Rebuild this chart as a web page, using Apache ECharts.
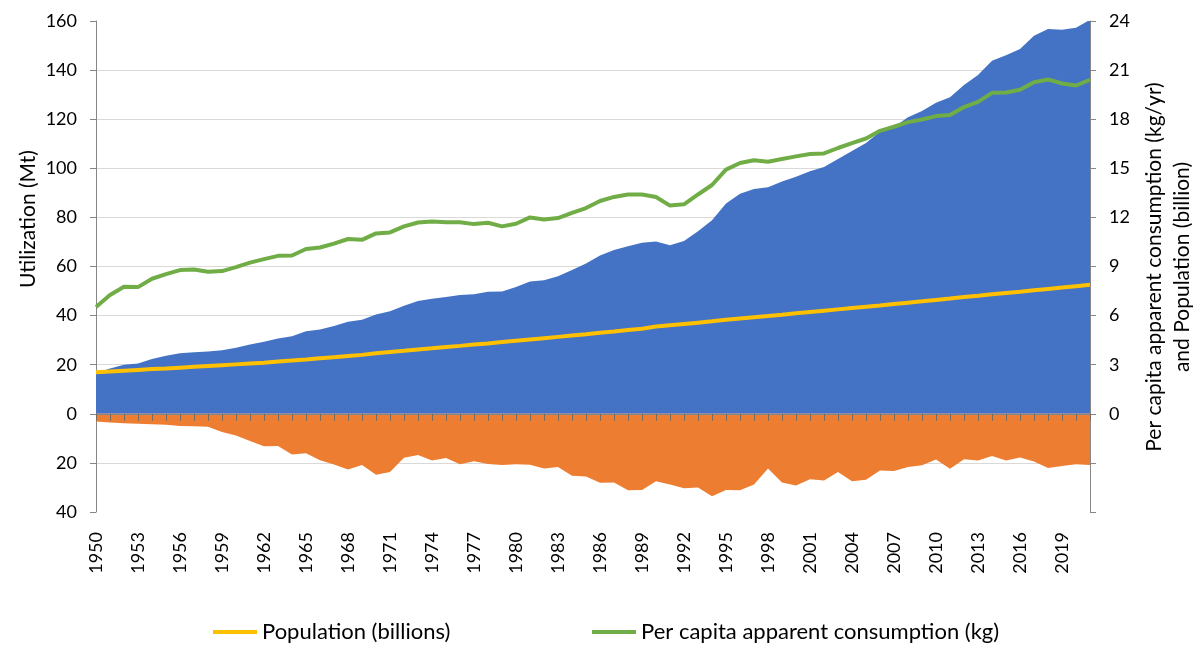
<!DOCTYPE html>
<html lang="en">
<head>
    <meta charset="UTF-8">
    <title>Utilization, population and per capita consumption</title>
    <style>
        body { margin: 0; overflow: hidden; background: #fff; }
        #chart { width: 1200px; height: 653px; }
    </style>
</head>
<body>
    <div id="chart"></div>
    <script src="https://cdn.jsdelivr.net/npm/echarts@6/dist/echarts.min.js"></script>
    <script>
        // years 1950 - 2021
        var years = [];
        for (var y = 1950; y <= 2021; y++) years.push(String(y));

        // utilization, Mt (blue area)
        var utilization = [
            16.5, 18.5, 20.0, 20.5, 22.3, 23.6, 24.7, 25.1, 25.4, 25.9,
            26.9, 28.2, 29.3, 30.7, 31.6, 33.6, 34.3, 35.8, 37.5, 38.3,
            40.4, 41.8, 44.0, 45.9, 46.9, 47.6, 48.4, 48.7, 49.7, 49.8,
            51.6, 53.9, 54.4, 56.0, 58.6, 61.2, 64.5, 66.7, 68.2, 69.7,
            70.2, 68.7, 70.4, 74.4, 78.8, 85.7, 89.6, 91.6, 92.3, 94.6,
            96.6, 98.8, 100.5, 103.8, 107.0, 110.3, 114.9, 116.8, 120.8, 123.3,
            126.7, 128.9, 133.9, 138.0, 143.8, 146.0, 148.6, 154.0, 156.7, 156.4,
            157.3, 160.5
        ];

        // below zero, Mt (orange area)
        var belowZero = [
            -3.1, -3.5, -3.8, -4.1, -4.3, -4.5, -5.0, -5.1, -5.3, -7.4,
            -8.8, -11.1, -13.2, -13.1, -16.6, -16.1, -18.9, -20.7, -22.7, -20.9,
            -24.8, -23.7, -17.9, -16.8, -19.0, -18.0, -20.6, -19.3, -20.4, -20.9,
            -20.5, -20.8, -22.3, -21.7, -25.2, -25.5, -28.1, -28.0, -31.1, -31.0,
            -27.5, -28.8, -30.3, -30.0, -33.6, -31.0, -31.1, -28.8, -22.3, -28.0,
            -29.2, -26.7, -27.2, -23.7, -27.5, -26.9, -23.1, -23.3, -21.7, -21.0,
            -18.6, -22.4, -18.5, -19.0, -17.2, -19.0, -17.8, -19.4, -22.1, -21.3,
            -20.5, -20.9
        ];

        // population, billions
        var population = [
            2.54, 2.58, 2.63, 2.68, 2.73, 2.77, 2.82, 2.87, 2.92, 2.97,
            3.02, 3.07, 3.12, 3.20, 3.26, 3.32, 3.39, 3.46, 3.53, 3.60,
            3.70, 3.78, 3.85, 3.93, 4.00, 4.08, 4.15, 4.23, 4.30, 4.38,
            4.46, 4.54, 4.62, 4.70, 4.78, 4.86, 4.95, 5.03, 5.12, 5.20,
            5.33, 5.41, 5.49, 5.57, 5.65, 5.74, 5.82, 5.90, 5.98, 6.05,
            6.14, 6.22, 6.30, 6.38, 6.46, 6.54, 6.62, 6.71, 6.79, 6.87,
            6.96, 7.04, 7.13, 7.21, 7.30, 7.38, 7.46, 7.55, 7.63, 7.71,
            7.80, 7.88
        ];

        // per capita apparent consumption, kg
        var perCapita = [
            6.53, 7.26, 7.76, 7.74, 8.25, 8.53, 8.78, 8.82, 8.68, 8.72,
            8.96, 9.24, 9.45, 9.65, 9.67, 10.07, 10.16, 10.40, 10.68, 10.63,
            11.02, 11.08, 11.45, 11.69, 11.75, 11.71, 11.71, 11.59, 11.67, 11.45,
            11.61, 12.00, 11.87, 11.96, 12.28, 12.57, 13.00, 13.25, 13.40, 13.40,
            13.25, 12.72, 12.80, 13.40, 13.98, 14.92, 15.32, 15.49, 15.40, 15.57,
            15.73, 15.87, 15.91, 16.24, 16.54, 16.82, 17.29, 17.54, 17.82, 17.98,
            18.19, 18.25, 18.74, 19.06, 19.61, 19.63, 19.80, 20.26, 20.43, 20.18,
            20.06, 20.41
        ];

        var font = 'Lato, "Noto Sans", sans-serif';
        var axisGrey = '#868686';

        var myChart = echarts.init(document.getElementById('chart'));
        var option = {
            animation: false,
            textStyle: { fontFamily: font, color: '#000' },
            grid: { left: 96, right: 110, top: 21, bottom: 141, containLabel: false },
            legend: [{
                left: 213, top: 621, padding: 0,
                icon: 'rect', itemWidth: 44, itemHeight: 4, itemGap: 4,
                textStyle: { fontFamily: font, fontSize: 22, color: '#000' },
                data: ['Population (billions)']
            }, {
                left: 592, top: 621, padding: 0,
                icon: 'rect', itemWidth: 44, itemHeight: 4, itemGap: 4,
                textStyle: { fontFamily: font, fontSize: 22, color: '#000' },
                data: ['Per capita apparent consumption (kg)']
            }],
            xAxis: [{
                // labels along the bottom
                type: 'category',
                data: years,
                boundaryGap: false,
                position: 'bottom',
                offset: 12,
                axisLine: { show: false, onZero: false },
                axisTick: { show: false },
                axisLabel: {
                    rotate: 90, interval: 2, margin: 8,
                    fontFamily: font, fontSize: 18, color: '#000'
                },
                splitLine: { show: false }
            }, {
                // the zero line with year ticks
                type: 'category',
                data: years,
                boundaryGap: false,
                position: 'bottom',
                z: 10,
                axisLine: { show: true, onZero: true, lineStyle: { color: axisGrey, width: 1 } },
                axisTick: { show: true, interval: 0, length: 7, lineStyle: { color: '#7a6a5e' } },
                axisLabel: { show: false },
                splitLine: { show: false }
            }],
            yAxis: [{
                type: 'value',
                position: 'left',
                min: -40, max: 160, interval: 20,
                axisLine: { show: true, lineStyle: { color: axisGrey } },
                axisTick: { show: true, length: 6, lineStyle: { color: axisGrey } },
                axisLabel: {
                    margin: 19, fontFamily: font, fontSize: 18, color: '#000',
                    formatter: function (v) { return Math.abs(v); }
                },
                splitLine: { show: true, showMinLine: false, showMaxLine: false, lineStyle: { color: '#d9d9d9' } }
            }, {
                type: 'value',
                position: 'right',
                min: -6, max: 24, interval: 3,
                axisLine: { show: true, lineStyle: { color: axisGrey } },
                axisTick: { show: true, length: 6, lineStyle: { color: axisGrey } },
                axisLabel: {
                    margin: 19, fontFamily: font, fontSize: 18, color: '#000',
                    formatter: function (v) { return v < 0 ? '' : v; }
                },
                splitLine: { show: false }
            }],
            graphic: [{
                type: 'text', x: 28, y: 219, rotation: Math.PI / 2,
                style: { text: 'Utilization (Mt)', font: '21px ' + font, fill: '#000', align: 'center', verticalAlign: 'middle' }
            }, {
                type: 'text', x: 1154, y: 267, rotation: Math.PI / 2,
                style: { text: 'Per capita apparent consumption (kg/yr)', font: '21px ' + font, fill: '#000', align: 'center', verticalAlign: 'middle' }
            }, {
                type: 'text', x: 1182, y: 267, rotation: Math.PI / 2,
                style: { text: 'and Population (billion)', font: '21px ' + font, fill: '#000', align: 'center', verticalAlign: 'middle' }
            }],
            series: [{
                name: 'Utilization',
                type: 'line',
                yAxisIndex: 0,
                symbol: 'none',
                lineStyle: { width: 0 },
                areaStyle: { color: '#4472C4', opacity: 1 },
                itemStyle: { color: '#4472C4' },
                data: utilization,
                z: 2
            }, {
                name: 'Below zero',
                type: 'line',
                yAxisIndex: 0,
                symbol: 'none',
                lineStyle: { width: 0 },
                areaStyle: { color: '#ED7D31', opacity: 1 },
                itemStyle: { color: '#ED7D31' },
                data: belowZero,
                z: 2
            }, {
                name: 'Population (billions)',
                type: 'line',
                yAxisIndex: 1,
                symbol: 'none',
                lineStyle: { width: 4, color: '#FFC000' },
                itemStyle: { color: '#FFC000' },
                data: population,
                z: 3
            }, {
                name: 'Per capita apparent consumption (kg)',
                type: 'line',
                yAxisIndex: 1,
                symbol: 'none',
                lineStyle: { width: 4, color: '#70AD47' },
                itemStyle: { color: '#70AD47' },
                data: perCapita,
                z: 3
            }]
        };
        myChart.setOption(option);
    </script>
</body>
</html>
